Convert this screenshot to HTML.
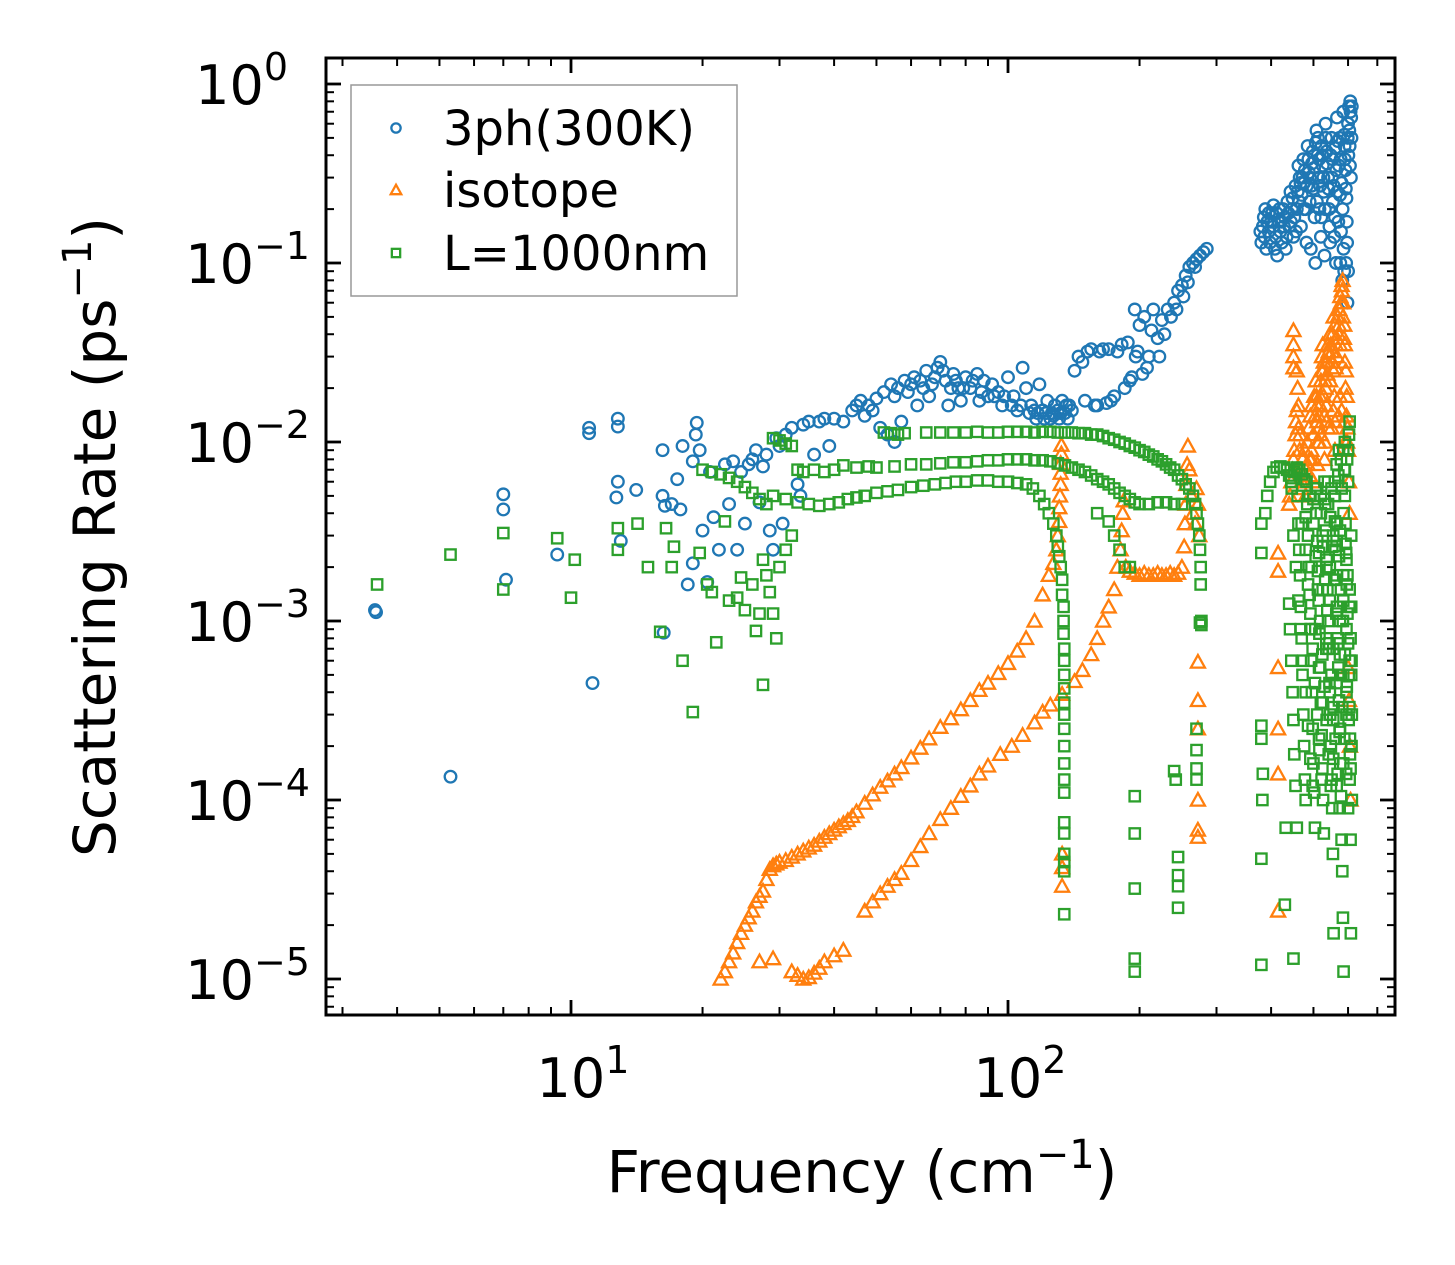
<!DOCTYPE html>
<html><head><meta charset="utf-8">
<style>
html,body{margin:0;padding:0;background:#fff;}
svg{display:block;font-family:"DejaVu Sans","Liberation Sans",sans-serif;}
</style></head>
<body>
<svg id="chart" width="1455" height="1265" viewBox="0 0 1455 1265" xmlns="http://www.w3.org/2000/svg">
<rect x="0" y="0" width="1455" height="1265" fill="#fff"/>
<g id="marks"></g>
<g id="axes"></g>
</svg>
<script>
// ---- data ----
const xTickValues=[10,100];
const yTickValues=[1,0.1,0.01,0.001,0.0001,0.00001];
const yTickExps=["0","−1","−2","−3","−4","−5"];
const xTickExps=["1","2"];
const seriesNames=["3ph(300K)","isotope","L=1000nm"];

const blueSparse=[[3.56,1.15e-3],[3.58,1.12e-3],[5.3,1.35e-4],[7.0,5.1e-3],[7.0,4.2e-3],[7.1,1.7e-3],[9.3,2.35e-3],[11.0,1.2e-2],[11.0,1.12e-2],[11.2,4.5e-4],[12.8,1.35e-2],[12.8,1.22e-2],[12.8,6.0e-3],[12.7,4.9e-3],[13.0,2.8e-3],[14.1,5.4e-3],[16.2,9e-3],[16.2,5e-3],[16.4,4.4e-3],[16.3,8.6e-4],[17.0,4.5e-3],[17.5,6.2e-3],[17.8,4.2e-3],[18.0,9.5e-3],[18.5,1.6e-3],[19.0,7.8e-3],[19.3,1.1e-2],[19.4,1.28e-2],[19.0,2.1e-3],[19.7,9.0e-3],[20.0,3.2e-3],[20.5,1.65e-3],[20.8,6.8e-3],[21.2,3.8e-3],[21.8,2.5e-3],[22.5,7.5e-3],[23.0,4.5e-3],[23.5,7.8e-3],[24.0,2.5e-3],[24.5,6.8e-3],[25.0,3.5e-3],[25.5,7.5e-3],[26.0,8.0e-3],[26.5,9.0e-3],[27,4.6e-3],[27.5,7.3e-3],[28,8.5e-3],[28.5,3.2e-3],[29,2.5e-3],[29.5,1.05e-2],[30,9.5e-3],[30.5,3.5e-3],[31,1.1e-2],[32,1.2e-2],[33,5.8e-3],[33.5,5.0e-3],[34,1.25e-2],[35,1.3e-2],[36,8.5e-3],[37,1.3e-2],[38,1.35e-2],[39,9.5e-3]];
const blueBand=[[40,1.35e-2],[42,1.3e-2],[44,1.5e-2],[46,1.7e-2],[47,1.4e-2],[48,1.6e-2],[50,1.75e-2],[51,1.2e-2],[52,1.9e-2],[53,1.1e-2],[54,2.1e-2],[55,1.0e-2],[56,2.0e-2],[57,1.3e-2],[58,2.2e-2],[60,2.1e-2],[62,1.6e-2],[63,2.2e-2],[65,2.5e-2],[66,1.8e-2],[68,2.3e-2],[70,2.8e-2],[71,2.5e-2],[72,2.2e-2],[73,1.6e-2],[75,2.4e-2],[77,2.0e-2],[78,1.7e-2],[80,2.3e-2],[82,2.0e-2],[85,2.4e-2],[86,1.7e-2],[88,2.2e-2],[90,1.8e-2],[92,2.1e-2],[95,1.9e-2],[97,1.6e-2],[100,2.3e-2],[102,1.6e-2],[105,1.5e-2],[108,2.6e-2],[110,2.0e-2],[112,1.45e-2],[115,1.5e-2],[116,1.35e-2],[118,2.1e-2],[120,1.5e-2],[121,1.35e-2],[123,1.7e-2],[125,1.35e-2],[126,1.45e-2],[128,1.6e-2],[130,1.5e-2],[131,1.35e-2],[133,1.7e-2],[135,1.45e-2],[137,1.35e-2],[138,1.6e-2],[140,1.5e-2],[45,1.6e-2],[49,1.5e-2],[55,1.8e-2],[59,1.9e-2],[61,2.3e-2],[64,2.0e-2],[67,2.1e-2],[69,2.6e-2],[74,2.0e-2],[76,2.2e-2],[79,2.0e-2],[83,2.2e-2],[87,1.9e-2],[93,1.8e-2],[98,1.8e-2],[103,1.8e-2],[107,1.6e-2],[113,1.6e-2],[117,1.45e-2],[122,1.45e-2],[127,1.4e-2],[132,1.45e-2],[136,1.6e-2]];
const blueBranches=[[142,2.5e-2],[145,3.0e-2],[148,2.8e-2],[150,1.7e-2],[152,3.2e-2],[155,3.3e-2],[158,1.6e-2],[160,1.6e-2],[162,3.2e-2],[165,3.3e-2],[168,1.65e-2],[170,3.3e-2],[172,1.7e-2],[175,1.8e-2],[178,3.2e-2],[182,3.5e-2],[185,2.0e-2],[188,3.6e-2],[190,2.2e-2],[192,2.3e-2],[195,5.5e-2],[196,3.0e-2],[198,3.2e-2],[200,4.5e-2],[203,2.4e-2],[205,5.0e-2],[208,2.6e-2],[210,3.0e-2],[213,4.2e-2],[215,5.5e-2],[220,3.8e-2],[222,3.0e-2],[225,4.8e-2],[228,4.0e-2],[232,5.5e-2],[236,5.0e-2],[240,6.0e-2],[243,5.5e-2],[245,7.0e-2],[250,7.5e-2],[252,6.5e-2],[255,8.5e-2],[258,7.8e-2],[260,9.5e-2],[265,1.0e-1],[268,9.5e-2],[270,1.05e-1],[275,1.1e-1],[280,1.15e-1],[285,1.2e-1]];
const blueHigh=[[378,0.15],[380,0.13],[383,0.16],[386,0.14],[390,0.12],[392,0.17],[395,0.15],[398,0.13],[402,0.19],[405,0.16],[408,0.12],[410,0.14],[413,0.11],[416,0.17],[420,0.15],[423,0.13],[426,0.2],[430,0.18],[432,0.12],[436,0.22],[440,0.16],[443,0.25],[446,0.2],[450,0.14],[455,0.27],[458,0.2],[462,0.35],[465,0.3],[468,0.16],[470,0.24],[474,0.38],[476,0.28],[480,0.2],[482,0.13],[485,0.45],[488,0.32],[490,0.22],[493,0.12],[496,0.36],[500,0.26],[503,0.18],[505,0.1],[508,0.55],[511,0.4],[514,0.3],[516,0.2],[520,0.14],[522,0.45],[525,0.35],[528,0.25],[530,0.11],[533,0.6],[536,0.42],[540,0.3],[543,0.2],[546,0.13],[550,0.5],[553,0.38],[556,0.27],[560,0.18],[563,0.1],[566,0.65],[569,0.48],[572,0.35],[575,0.24],[578,0.15],[582,0.08],[585,0.7],[588,0.52],[590,0.38],[593,0.26],[596,0.17],[598,0.06],[600,0.6],[603,0.75],[605,0.45],[607,0.8],[609,0.3],[610,0.65]];
const blueHigh2=[[385,0.18],[388,0.2],[395,0.19],[400,0.17],[405,0.21],[412,0.19],[418,0.2],[422,0.17],[428,0.16],[434,0.14],[438,0.19],[444,0.17],[448,0.23],[452,0.18],[456,0.15],[460,0.25],[464,0.22],[467,0.28],[472,0.3],[475,0.2],[478,0.33],[483,0.27],[487,0.38],[491,0.3],[495,0.27],[498,0.42],[502,0.34],[506,0.47],[509,0.22],[512,0.5],[515,0.38],[518,0.27],[521,0.18],[524,0.4],[527,0.3],[531,0.2],[534,0.5],[537,0.36],[541,0.26],[544,0.16],[548,0.4],[551,0.3],[554,0.22],[558,0.14],[561,0.44],[564,0.33],[567,0.25],[570,0.17],[574,0.5],[577,0.38],[580,0.28],[583,0.2],[586,0.12],[589,0.45],[592,0.33],[595,0.23],[597,0.13],[599,0.5],[601,0.4],[604,0.55],[606,0.35],[608,0.7],[611,0.5],[612,0.75],[600,0.09],[594,0.1],[588,0.09],[576,0.1]];

const orangeCurve1=[[22,1e-5],[22.5,1.1e-5],[23,1.25e-5],[23.5,1.4e-5],[24,1.6e-5],[24.5,1.8e-5],[25,2e-5],[25.5,2.2e-5],[26,2.4e-5],[26.5,2.7e-5],[27,2.9e-5],[27.5,3.1e-5],[28,3.6e-5],[28.5,4.1e-5],[29,4.3e-5],[29.5,4.4e-5],[30,4.5e-5],[31,4.6e-5],[32,4.8e-5],[33,5.0e-5],[34,5.2e-5],[35,5.4e-5],[36,5.6e-5],[37,5.9e-5],[38,6.2e-5],[39,6.5e-5],[40,6.8e-5],[41,7.1e-5],[42,7.4e-5],[43,7.7e-5],[44,8.1e-5],[45,8.6e-5],[47,9.6e-5],[49,1.07e-4],[51,1.18e-4],[53,1.28e-4],[55,1.4e-4],[57,1.52e-4],[60,1.72e-4],[63,1.95e-4],[66,2.2e-4],[70,2.55e-4],[74,2.85e-4],[78,3.2e-4],[82,3.6e-4],[86,4.1e-4],[90,4.5e-4],[95,5.1e-4],[100,5.8e-4],[105,6.8e-4],[110,8.0e-4],[115,1.0e-3],[120,1.4e-3],[124,1.8e-3],[127,2.1e-3],[129,2.5e-3],[130,3.0e-3],[131,3.6e-3],[131,4.3e-3],[131.5,5.0e-3],[132,5.8e-3],[132,6.7e-3],[132,7.6e-3],[132.5,8.6e-3],[132.5,9.6e-3],[133,5e-5],[133,4.2e-5],[133,3.3e-5]];
const orangeCurve2=[[27,1.25e-5],[29,1.3e-5],[32,1.1e-5],[33,1.05e-5],[34,1.0e-5],[35,1.02e-5],[36,1.08e-5],[37,1.15e-5],[38,1.25e-5],[40,1.35e-5],[42,1.45e-5],[47,2.4e-5],[49,2.7e-5],[51,3.0e-5],[53,3.3e-5],[55,3.6e-5],[57,3.9e-5],[60,4.6e-5],[63,5.5e-5],[66,6.5e-5],[70,7.8e-5],[74,9.0e-5],[78,1.05e-4],[82,1.2e-4],[86,1.4e-4],[90,1.55e-4],[96,1.8e-4],[102,2.0e-4],[108,2.3e-4],[115,2.7e-4],[120,3.1e-4],[125,3.4e-4],[133,3.9e-4],[142,4.6e-4],[148,5.3e-4],[155,6.5e-4],[160,8.0e-4],[165,1.0e-3],[170,1.2e-3],[175,1.5e-3],[178,2.0e-3],[181,2.5e-3],[182,3.2e-3],[183,4.0e-3],[184,4.7e-3],[186,2.0e-3],[190,1.9e-3],[195,1.85e-3],[200,1.8e-3],[205,1.85e-3],[210,1.8e-3],[215,1.8e-3],[220,1.85e-3],[225,1.8e-3],[230,1.8e-3],[235,1.85e-3],[240,1.8e-3],[245,1.85e-3],[250,2.0e-3],[253,2.6e-3],[254,3.5e-3],[255,4.5e-3],[256,5.8e-3],[257,7.5e-3],[258,9.5e-3],[260,7e-3],[263,5e-3],[265,4e-3],[268,3.5e-3],[270,5.5e-3],[272,4.5e-3],[274,3.0e-3],[272,5.9e-4],[272,3.6e-4],[272,2.5e-4],[272,1.0e-4],[272,6.8e-5],[272,6.2e-5]];
const orangeHigh=[[415,2.4e-3],[415,1.9e-3],[415,5.5e-4],[415,2.5e-4],[415,1.4e-4],[415,2.4e-5],[450,0.042],[450,0.035],[450,0.03],[450,0.026],[440,4.5e-3],[445,6e-3],[450,8e-3],[455,0.011],[458,0.015],[460,0.02],[462,0.012],[465,0.009],[468,0.007],[470,0.006],[475,0.0065],[480,0.007],[485,0.0075],[490,0.008],[495,0.009],[500,0.011],[505,0.014],[508,0.018],[510,0.013],[512,0.01],[515,0.012],[518,0.016],[520,0.022],[523,0.03],[526,0.025],[528,0.018],[530,0.014],[533,0.02],[536,0.028],[540,0.035],[543,0.03],[546,0.022],[550,0.028],[553,0.04],[556,0.05],[560,0.045],[563,0.035],[566,0.03],[570,0.04],[573,0.055],[576,0.065],[580,0.075],[583,0.08],[585,0.06],[588,0.045],[590,0.035],[593,0.025],[596,0.018],[598,0.012],[600,0.009],[603,0.006],[605,0.004],[600,5.5e-4],[603,3.6e-4],[606,2.0e-4],[608,1.0e-4],[520,0.011],[540,0.012],[560,0.013],[580,0.015],[480,0.005],[500,0.006],[530,0.008],[560,0.009],[590,0.01]];
const orangeHigh2=[[442,5e-3],[448,7e-3],[452,9e-3],[456,1.3e-2],[458,2.5e-2],[462,1.6e-2],[466,1.1e-2],[472,8e-3],[478,9e-3],[484,1e-2],[488,1.2e-2],[492,1.4e-2],[496,1.6e-2],[502,1.8e-2],[506,2.2e-2],[510,1.6e-2],[514,1.4e-2],[518,1.8e-2],[522,2.5e-2],[525,3.5e-2],[528,2.8e-2],[532,2.2e-2],[535,1.6e-2],[538,2.4e-2],[542,3.2e-2],[545,4e-2],[548,3.5e-2],[552,3.2e-2],[555,2.5e-2],[558,1.8e-2],[562,2.6e-2],[565,3.8e-2],[568,5e-2],[572,4.5e-2],[575,3.5e-2],[578,6e-2],[581,7e-2],[584,5e-2],[587,3.8e-2],[590,2.8e-2],[592,2e-2],[595,1.4e-2],[597,1e-2],[470,5.5e-3],[490,6.5e-3],[510,7.5e-3],[530,1.0e-2],[550,1.2e-2],[570,1.4e-2],[590,1.3e-2],[575,1.8e-2],[555,1.5e-2],[535,1.3e-2],[515,1.0e-2],[495,8e-3]];

const greenSparse=[[3.6,1.6e-3],[5.3,2.35e-3],[7.0,3.1e-3],[7.0,1.5e-3],[9.3,2.9e-3],[10.2,2.2e-3],[10.0,1.35e-3],[12.8,3.3e-3],[12.8,2.5e-3],[14.2,3.5e-3],[15.0,2.0e-3],[16.0,8.7e-4],[16.5,3.3e-3],[17.0,2.0e-3],[17.2,2.6e-3],[18.0,6.0e-4],[19.0,3.1e-4],[19.7,2.4e-3],[20.5,1.6e-3],[21.0,1.45e-3],[21.5,7.6e-4],[22.5,3.6e-3],[23.0,1.3e-3],[24,1.35e-3],[24.5,1.75e-3],[25,1.15e-3],[26,1.6e-3],[26.5,8.8e-4],[27,1.1e-3],[27.5,2.2e-3],[27.5,4.4e-4],[28,1.8e-3],[28.5,1.45e-3],[29,1.1e-3],[29.5,8e-4],[30,2.0e-3],[31,2.5e-3],[32,3.0e-3]];
const greenTop=[[20,7e-3],[21,6.8e-3],[22,6.6e-3],[23,6.3e-3],[24,6.0e-3],[25,5.6e-3],[26,5.2e-3],[27,4.8e-3],[28,4.5e-3],[29,1.05e-2],[30,1.02e-2],[31,9.8e-3],[32,9.5e-3],[33,7.0e-3],[34,6.8e-3],[36,7.0e-3],[38,6.8e-3],[40,7.0e-3],[52,1.13e-2],[54,1.12e-2],[56,1.1e-2],[58,1.12e-2],[65,1.13e-2],[70,1.13e-2],[75,1.13e-2],[80,1.13e-2],[85,1.14e-2],[90,1.13e-2],[95,1.13e-2],[100,1.14e-2],[105,1.14e-2],[110,1.14e-2],[115,1.13e-2],[120,1.14e-2],[125,1.14e-2],[130,1.13e-2],[135,1.13e-2],[140,1.13e-2],[145,1.12e-2],[150,1.12e-2],[155,1.1e-2],[160,1.1e-2],[165,1.08e-2],[170,1.05e-2],[175,1.03e-2],[180,1.0e-2],[185,9.8e-3],[190,9.5e-3],[195,9.3e-3],[200,9.0e-3],[205,8.8e-3],[210,8.5e-3],[215,8.3e-3],[220,8.0e-3],[225,7.8e-3],[230,7.5e-3],[235,7.2e-3],[240,7.0e-3],[245,6.5e-3],[250,6.2e-3],[255,5.8e-3],[260,5.5e-3],[265,5.0e-3],[268,4.5e-3],[270,4.0e-3],[272,3.5e-3],[274,3.0e-3],[275,2.5e-3],[276,2.0e-3],[276,1.6e-3],[277,1.0e-3],[277,9.5e-4]];
const greenMid=[[42,7.4e-3],[45,7.2e-3],[48,7.3e-3],[50,7.2e-3],[55,7.3e-3],[60,7.5e-3],[65,7.5e-3],[70,7.6e-3],[75,7.7e-3],[80,7.7e-3],[85,7.8e-3],[90,7.9e-3],[95,7.9e-3],[100,8.0e-3],[105,8.0e-3],[110,8.0e-3],[115,7.9e-3],[120,7.9e-3],[125,7.8e-3],[130,7.6e-3],[135,7.4e-3],[140,7.2e-3],[145,7.0e-3],[150,6.8e-3],[155,6.5e-3],[160,6.2e-3],[165,6.0e-3],[170,5.8e-3],[175,5.5e-3],[180,5.2e-3],[185,5.0e-3],[190,4.8e-3],[195,4.6e-3],[200,4.5e-3],[210,4.5e-3],[220,4.6e-3],[230,4.6e-3],[240,4.5e-3],[250,4.5e-3],[160,4.0e-3],[170,3.6e-3],[175,3.0e-3],[180,2.5e-3],[185,2.0e-3],[190,2.0e-3],[195,1.05e-4],[195,6.5e-5],[195,3.2e-5],[195,1.3e-5],[195,1.1e-5],[240,1.45e-4],[242,1.3e-4],[245,4.8e-5],[245,3.8e-5],[245,3.3e-5],[245,2.5e-5],[270,2.5e-4],[270,1.9e-4],[270,1.5e-4],[270,1.3e-4],[275,9.8e-4]];
const greenArch=[[29,5.0e-3],[31,4.8e-3],[33,4.6e-3],[35,4.5e-3],[37,4.4e-3],[39,4.5e-3],[41,4.6e-3],[43,4.8e-3],[45,4.9e-3],[47,5.0e-3],[50,5.2e-3],[53,5.3e-3],[56,5.4e-3],[60,5.6e-3],[64,5.7e-3],[68,5.8e-3],[72,5.9e-3],[76,6.0e-3],[80,6.0e-3],[85,6.1e-3],[90,6.1e-3],[95,6.0e-3],[100,6.0e-3],[105,5.9e-3],[110,5.8e-3],[114,5.5e-3],[118,5.0e-3],[121,4.5e-3],[124,4.0e-3],[127,3.5e-3],[129,3.0e-3],[130,2.6e-3],[131,2.3e-3],[132,2.0e-3],[133,1.7e-3],[133,1.4e-3],[134,1.2e-3],[134,1.0e-3],[134,8.5e-4],[134.5,7e-4],[134.5,6e-4],[134.5,5e-4],[134.5,4.2e-4],[134.5,3.5e-4],[134.5,3.0e-4],[134.5,2.5e-4],[134.5,2.0e-4],[134.5,1.6e-4],[134.5,1.3e-4],[134.5,1.1e-4],[134.5,7.5e-5],[134.5,6.5e-5],[134.5,5e-5],[134.5,4.5e-5],[134.5,4e-5],[134.5,2.3e-5]];
const greenHigh=[[380,2.4e-3],[380,3.5e-3],[380,2.6e-4],[380,2.2e-4],[380,4.7e-5],[380,1.2e-5],[382,1.0e-4],[383,1.4e-4],[388,4e-3],[392,5e-3],[398,6e-3],[405,6.8e-3],[412,7.2e-3],[420,7.3e-3],[428,7.2e-3],[435,7.0e-3],[440,6.5e-3],[445,6.0e-3],[430,2.6e-5],[432,7.0e-5],[440,1.25e-3],[442,9e-4],[445,6e-4],[448,4e-4],[450,2.8e-4],[450,1.3e-5],[452,1.8e-4],[455,1.2e-4],[458,7e-5],[460,5e-3],[462,3.5e-3],[464,2.5e-3],[466,1.8e-3],[468,1.2e-3],[470,8e-4],[472,5e-4],[474,3e-4],[476,2e-4],[478,1.3e-4],[480,1e-4],[482,6e-3],[484,4.5e-3],[486,3e-3],[488,2e-3],[490,1.4e-3],[492,9e-4],[494,6e-4],[496,4e-4],[498,2.5e-4],[500,1.6e-4],[502,1.1e-4],[504,7e-5],[506,5.5e-3],[508,4e-3],[510,2.8e-3],[512,1.9e-3],[514,1.3e-3],[516,8.5e-4],[518,5.5e-4],[520,3.5e-4],[522,2.3e-4],[524,1.5e-4],[526,1e-4],[528,6.5e-5],[530,6e-3],[532,4.5e-3],[534,3.2e-3],[536,2.2e-3],[538,1.5e-3],[540,1e-3],[542,7e-4],[544,4.5e-4],[546,3e-4],[548,2e-4],[550,1.3e-4],[552,9e-5],[554,5e-5],[556,1.8e-5],[558,5e-3],[560,3.6e-3],[562,2.5e-3],[564,1.7e-3],[566,1.2e-3],[568,8e-4],[570,5.5e-4],[572,3.6e-4],[574,2.4e-4],[576,1.6e-4],[578,1.05e-4],[580,6e-5],[582,4e-5],[584,2.2e-5],[586,1.1e-5],[588,7e-3],[590,5e-3],[592,3.5e-3],[594,2.4e-3],[596,1.6e-3],[598,1.1e-3],[600,7.5e-4],[602,5e-4],[604,3.3e-4],[606,2.2e-4],[608,1.5e-4],[608,6e-5],[609,1.8e-5],[605,1.3e-2],[603,1.1e-2],[600,9e-3],[597,8e-3],[590,1.0e-2],[585,9e-3],[578,8e-3],[572,9e-3],[565,7.5e-3],[610,3e-3],[610,1.2e-3],[611,6e-4],[611,2e-4],[612,1e-4],[520,5e-3],[540,4.5e-3],[560,6e-3],[500,4.8e-3],[480,3.8e-3],[525,3.0e-3],[545,2.0e-3],[565,2.8e-3],[585,1.8e-3],[595,4.0e-4],[575,6.5e-4],[555,2.8e-4],[535,7e-4],[515,2.2e-4],[495,9e-4]];
const greenHigh2=[[446,5.5e-3],[452,6.8e-3],[458,7.2e-3],[464,7.0e-3],[470,6.6e-3],[476,6.2e-3],[450,3e-3],[456,2e-3],[462,1.3e-3],[468,9e-4],[474,6e-4],[480,4e-4],[486,2.6e-4],[492,1.7e-4],[498,1.2e-4],[480,2.5e-3],[486,1.6e-3],[492,1.1e-3],[498,7e-4],[504,4.5e-4],[510,3e-4],[516,1.9e-4],[522,1.3e-4],[500,3.5e-3],[506,2.3e-3],[512,1.5e-3],[518,1e-3],[524,6.5e-4],[530,4.3e-4],[536,2.8e-4],[542,1.8e-4],[548,1.2e-4],[520,4e-3],[526,2.6e-3],[532,1.7e-3],[538,1.15e-3],[544,7.5e-4],[550,5e-4],[556,3.3e-4],[562,2.2e-4],[568,1.4e-4],[574,9e-5],[540,6e-3],[546,3.8e-3],[552,2.6e-3],[558,1.7e-3],[564,1.1e-3],[570,7.5e-4],[576,5e-4],[582,3.3e-4],[588,2.2e-4],[594,1.4e-4],[600,9e-5],[560,5e-3],[566,3.5e-3],[572,2.3e-3],[578,1.5e-3],[584,1e-3],[590,6.5e-4],[596,4.3e-4],[602,2.8e-4],[606,1.8e-4],[580,5.5e-3],[586,4e-3],[592,2.7e-3],[598,1.8e-3],[604,1.2e-3],[608,8e-4],[610,5e-4],[612,3e-4],[470,3.5e-3],[490,5e-3],[510,5.5e-3],[530,4.8e-3],[550,5.5e-3],[570,6.5e-3],[590,7e-3],[600,6e-3],[495,2.0e-3],[515,2.4e-3],[535,2.0e-3],[555,3.0e-3],[575,3.2e-3],[595,2.2e-3],[505,9e-4],[525,1.5e-3],[545,1.3e-3],[565,1.8e-3],[585,1.3e-3],[605,1.5e-3],[515,5.5e-4],[535,8e-4],[555,7e-4],[575,1e-3],[595,9e-4],[525,3.5e-4],[545,4e-4],[565,4.5e-4],[585,5e-4],[605,6e-4],[555,1.7e-4],[575,2.5e-4],[595,3e-4],[565,1.2e-4],[585,1.6e-4],[605,1.3e-4]];

const blueSeries=[].concat(blueSparse,blueBand,blueBranches,blueHigh,blueHigh2);
const orangeSeries=[].concat(orangeCurve1,orangeCurve2,orangeHigh,orangeHigh2);
const greenSeries=[].concat(greenSparse,greenTop,greenMid,greenArch,greenHigh,greenHigh2);

// ---- axes ----
const X0=326,X1=1395,Y0=58,Y1=1015;
function xScale(f){return 571+437*(Math.log10(f)-1);}
function yScale(r){return 442-179*(Math.log10(r)+2);}
const NS="http://www.w3.org/2000/svg";
function mk(tag,attrs,parent){const e=document.createElementNS(NS,tag);for(const k in attrs)e.setAttribute(k,attrs[k]);parent.appendChild(e);return e;}
const marks=document.getElementById('marks');
const axes=document.getElementById('axes');
const C=["#1f77b4","#ff7f0e","#2ca02c"];

function circle(g,x,y,s){s=s||1;return mk('circle',{cx:x,cy:y,r:5.8*s,fill:'none',stroke:C[0],'stroke-width':2.3},g);}
function tri(g,x,y,s){s=(s||1)*7;return mk('polygon',{points:`${x},${y-s} ${x-s},${y+s*0.8} ${x+s},${y+s*0.8}`,fill:'none',stroke:C[1],'stroke-width':2.3},g);}
function sq(g,x,y,s){s=(s||1)*5.2;return mk('rect',{x:x-s,y:y-s,width:2*s,height:2*s,fill:'none',stroke:C[2],'stroke-width':2.3},g);}

const gB=mk('g',{},marks);


const gO=mk('g',{},marks);


const gG=mk('g',{},marks);


blueSeries.forEach(p=>{const e=circle(gB,xScale(p[0]),yScale(p[1]));

});
orangeSeries.forEach(p=>{const e=tri(gO,xScale(p[0]),yScale(p[1]));

});
greenSeries.forEach(p=>{const e=sq(gG,xScale(p[0]),yScale(p[1]));

});

// frame
const fr=mk('rect',{x:X0,y:Y0,width:X1-X0,height:Y1-Y0,fill:'none',stroke:'#000','stroke-width':3},axes);


for(let d=0;d<=2;d++){for(let m=1;m<=9;m++){const v=m*Math.pow(10,d);const x=xScale(v);if(x<X0||x>X1)continue;const L=(m===1)?15:8;const w=(m===1)?2.8:2;
mk('line',{x1:x,y1:Y1,x2:x,y2:Y1-L,stroke:'#000','stroke-width':w},axes);
mk('line',{x1:x,y1:Y0,x2:x,y2:Y0+L,stroke:'#000','stroke-width':w},axes);}}
for(let d=-6;d<=0;d++){for(let m=1;m<=9;m++){const v=m*Math.pow(10,d);const y=yScale(v);if(y<Y0||y>Y1)continue;const L=(m===1)?15:8;const w=(m===1)?2.8:2;
mk('line',{x1:X0,y1:y,x2:X0+L,y2:y,stroke:'#000','stroke-width':w},axes);
mk('line',{x1:X1,y1:y,x2:X1-L,y2:y,stroke:'#000','stroke-width':w},axes);}}
xTickValues.forEach((v,i)=>{const t=mk('text',{x:xScale(v)+12,y:1097,'text-anchor':'middle','font-size':54,fill:'#000'},axes);


t.innerHTML=`10<tspan dy="-24" font-size="38">${xTickExps[i]}</tspan>`;});
yTickValues.forEach((v,i)=>{const t=mk('text',{x:i===0?288:310,y:yScale(v)+20,'text-anchor':'end','font-size':54,fill:'#000'},axes);


t.innerHTML=`10<tspan dy="-24" font-size="38">${yTickExps[i]}</tspan>`;});
const xt=mk('text',{x:862,y:1192,'text-anchor':'middle','font-size':58,fill:'#000'},axes);


xt.innerHTML='Frequency (cm<tspan dy="-24" font-size="40">−1</tspan><tspan dy="24">)</tspan>';
const yt=mk('text',{x:0,y:0,'text-anchor':'middle','font-size':58,fill:'#000',transform:'translate(115,537) rotate(-90)'},axes);


yt.innerHTML='Scattering Rate (ps<tspan dy="-24" font-size="40">−1</tspan><tspan dy="24">)</tspan>';
// legend
const lg=mk('g',{},axes);


mk('rect',{x:351,y:85,width:386,height:211,fill:'#fff',stroke:'#999','stroke-width':1.5},lg);
const ly=[128,190,253];
circle(lg,396,ly[0],0.8);tri(lg,396,ly[1],0.75);sq(lg,396,ly[2],0.8);
seriesNames.forEach((n,i)=>{const t=mk('text',{x:443,y:ly[i]+17,'font-size':48,fill:'#000'},lg);


t.textContent=n;});
</script>
</body></html>
